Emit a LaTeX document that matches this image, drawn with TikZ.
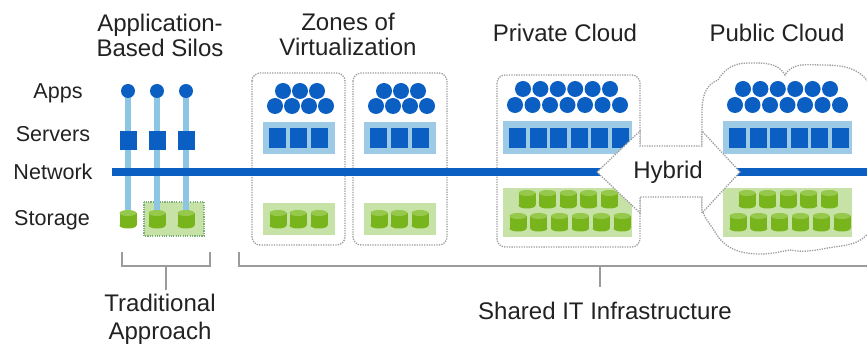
\documentclass[tikz,border=0pt]{standalone}
\usepackage{fontspec}
\setmainfont{Liberation Sans}
\definecolor{appblue}{HTML}{0B5FC3}
\definecolor{bandblue}{HTML}{9DCBE5}
\definecolor{linkblue}{HTML}{8CC6E4}
\definecolor{drumgreen}{HTML}{78B41C}
\definecolor{drumtop}{HTML}{96C84C}
\definecolor{bandgreen}{HTML}{C7E2A6}
\definecolor{ink}{HTML}{222222}
\definecolor{rule}{HTML}{9B9B9B}
% storage cylinder centred at (#1,#2)
\newcommand{\drum}[2]{%
  \fill[drumgreen] (#1-8.5,#2-6) rectangle (#1+8.5,#2+6.5);
  \fill[drumgreen] (#1,#2+6.5) ellipse [x radius=8.5, y radius=3];
  \fill[drumtop] (#1,#2-6) ellipse [x radius=8.5, y radius=3];
}
\begin{document}
\begin{tikzpicture}[x=0.03cm,y=-0.03cm,
    dotbox/.style={draw=rule,densely dotted,line width=1.1pt,rounded corners=7pt},
    bracket/.style={draw=rule,line width=1.2pt},
    rowlabel/.style={font=\fontsize{18.4}{20}\selectfont,text=ink},
    title/.style={font=\fontsize{20.5}{21.3}\selectfont,text=ink,align=center},
    foot/.style={font=\fontsize{20.5}{24}\selectfont,text=ink,align=center}]
\useasboundingbox (0,0) rectangle (867,347);
% column titles
\node[title] (silos) at (160,35) {Application-\\Based Silos};
\node[title] (zones) at (348,34) {Zones of\\Virtualization};
\node[title] (private) at (565,33) {Private Cloud};
\node[title] (public) at (777,33) {Public Cloud};
% row labels
\node[rowlabel] (apps) at (58,93) {Apps};
\node[rowlabel] (servers) at (53,134) {Servers};
\node[rowlabel] (network) at (53,172) {Network};
\node[rowlabel] (storage) at (52,220) {Storage};
% public cloud outline
\draw[draw=rule,densely dotted,line width=1.1pt,fill=white] (702,140) -- (702,112)
  to[out=90,in=200] (718,80) to[out=60,in=180] (748,63) to[out=0,in=120] (785,75)
  to[out=60,in=180] (823,65) to[out=0,in=120] (870,85) to[out=-60,in=90] (878,150)
  to[out=-90,in=60] (870,230) to[out=240,in=10] (828,248) to[out=190,in=-10] (790,250)
  to[out=190,in=0] (760,254) to[out=180,in=-60] (715,232) to[out=120,in=-90] (702,205) -- cycle;
% zone and private cloud boxes
\draw[dotbox] (252,73) rectangle (345,245);
\draw[dotbox] (353,73) rectangle (447,245);
\draw[dotbox] (497,75) rectangle (640,247);
% silos
\draw[draw=rule!80!green,densely dotted,fill=bandgreen,line width=1pt] (144,202) rectangle (204,236);
\foreach \x in {128,157,186} {
  \draw[linkblue,line width=4.3pt] (\x,91) -- (\x,214);
  \fill[appblue] (\x,91) circle[radius=7];
  \fill[appblue] (\x-8.5,131) rectangle ++(17,19);
  \drum{\x}{219}
}
% zones of virtualization
\foreach \dx in {0,101} {
  \begin{scope}[shift={(\dx,0)}]
    \foreach \x in {283,300,317} \fill[appblue] (\x,91) circle[radius=8];
    \foreach \x in {275,292,309,326} \fill[appblue] (\x,106) circle[radius=8];
    \fill[bandblue] (263,122) rectangle (335,154);
    \foreach \x in {269,290,311} \fill[appblue] (\x,128) rectangle ++(17,20);
    \fill[bandgreen] (263,203) rectangle (335,235);
    \foreach \x in {278,298,319} {\drum{\x}{219}}
  \end{scope}
}
% private and public cloud
\foreach \dx in {0,220} {
  \begin{scope}[shift={(\dx,0)}]
    \foreach \i in {0,...,5} \fill[appblue] (523+17.4*\i,89) circle[radius=8];
    \foreach \i in {0,...,6} \fill[appblue] (515+17.5*\i,105) circle[radius=8];
    \fill[bandblue] (503,121) rectangle (632,154);
    \foreach \i in {0,...,5} \fill[appblue] (509+20.5*\i,128) rectangle ++(17,20);
    \fill[bandgreen] (503,188) rectangle (632,237);
    \foreach \i in {0,...,4} {\drum{527+20.6*\i}{199}}
    \foreach \i in {0,...,5} {\drum{518+20.8*\i}{222}}
  \end{scope}
}
% network
\draw[appblue,line width=6.8pt] (112,172) -- (610,172);
\draw[appblue,line width=6.8pt] (730,172) -- (880,172);
% hybrid arrow
\draw[draw=rule,densely dotted,line width=1.1pt,fill=white] (597,172) -- (640,131) -- (640,146)
  -- (702,146) -- (702,131) -- (740,172) -- (702,213) -- (702,197) -- (640,197) -- (640,213) -- cycle;
\node[title] (hybrid) at (668,172) {Hybrid};
% brackets
\draw[bracket] (122,252) -- (122,266) -- (210,266) -- (210,252);
\draw[bracket] (239,252) -- (239,266) -- (880,266);
\node[foot] (trad) at (160,319) {Traditional\\Approach};
\node[foot] (shared) at (605,311) {Shared IT Infrastructure};
\coordinate (tradfork) at (166,266);
\coordinate (sharedfork) at (600,266);
\draw[bracket] (tradfork) -- (tradfork |- trad.north);
\draw[bracket,shorten >=9pt] (sharedfork) -- (sharedfork |- shared.north);
\end{tikzpicture}
\end{document}
